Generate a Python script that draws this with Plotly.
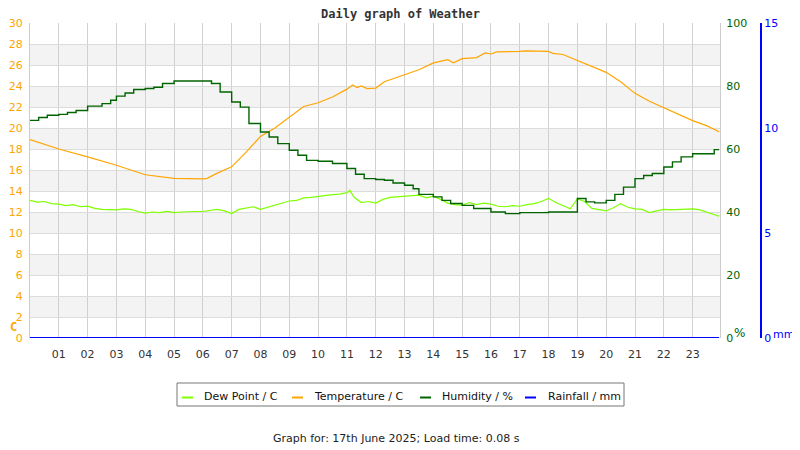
import plotly.graph_objects as go

# readings for 17th June 2025 (hours since midnight)
temp_hours = [0, 1, 2, 3, 4, 5, 6, 6.15, 6.5, 7, 7.5, 8, 8.5, 9, 9.5, 10, 10.5, 11, 11.2, 11.35,
              11.5, 11.7, 12, 12.3, 12.6, 13, 13.5, 14, 14.5, 14.7, 15, 15.5, 15.8, 16, 16.2, 17,
              17.2, 18, 18.15, 18.5, 19, 19.5, 20, 20.5, 21, 21.5, 22, 22.5, 23, 23.5, 23.92]
temp_c = [18.9, 18.0, 17.25, 16.45, 15.55, 15.2, 15.15, 15.2, 15.7, 16.3, 17.7, 19.2, 20.0, 21.05,
          22.05, 22.4, 22.95, 23.7, 24.1, 23.85, 24.0, 23.75, 23.8, 24.4, 24.7, 25.1, 25.55, 26.2,
          26.5, 26.2, 26.6, 26.7, 27.15, 27.05, 27.25, 27.3, 27.35, 27.3, 27.1, 27.0, 26.45, 25.9,
          25.3, 24.4, 23.3, 22.55, 21.95, 21.3, 20.7, 20.2, 19.65]

hum_hours = [0, 0.3, 0.6, 1, 1.3, 1.6, 2, 2.5, 2.8, 3, 3.3, 3.6, 4, 4.3, 4.6, 5, 5.5, 6, 6.3, 6.6,
             7, 7.3, 7.6, 8, 8.3, 8.6, 9, 9.3, 9.6, 10, 10.5, 11, 11.3, 11.6, 12, 12.3, 12.6, 13,
             13.3, 13.5, 14, 14.3, 14.6, 15, 15.4, 16, 16.5, 17, 18, 18.8, 19.0, 19.3, 19.6, 20,
             20.3, 20.6, 21, 21.3, 21.6, 22, 22.3, 22.6, 23, 23.75, 23.92]
hum_pct = [69.1, 70.0, 70.7, 71.0, 71.6, 72.2, 73.6, 74.4, 75.5, 76.8, 77.8, 78.9, 79.2, 79.6,
           80.8, 81.6, 81.6, 81.6, 80.8, 78.1, 74.9, 73.3, 68.1, 65.4, 63.8, 61.7, 59.6, 58.0,
           56.4, 56.1, 55.4, 53.8, 52.0, 50.6, 50.3, 50.1, 49.2, 48.5, 47.4, 45.6, 44.8, 43.7,
           42.7, 42.1, 41.1, 40.0, 39.5, 39.8, 40.0, 40.0, 44.3, 43.2, 42.9, 43.7, 45.6, 47.9,
           50.6, 51.6, 52.2, 54.3, 55.9, 57.5, 58.5, 59.8, 59.8]

dew_hours = [0, 0.25, 0.5, 0.75, 1, 1.25, 1.5, 1.75, 2, 2.25, 2.5, 2.75, 3, 3.25, 3.5, 3.75, 4,
             4.25, 4.5, 4.75, 5, 5.25, 5.5, 5.75, 6, 6.25, 6.5, 6.75, 7, 7.25, 7.5, 7.75, 8, 8.25,
             8.5, 8.75, 9, 9.25, 9.5, 9.75, 10, 10.25, 10.5, 10.75, 11, 11.1, 11.25, 11.5, 11.75,
             12, 12.25, 12.5, 12.75, 13, 13.25, 13.5, 13.75, 14, 14.25, 14.5, 14.75, 15, 15.25,
             15.5, 15.75, 16, 16.25, 16.5, 16.75, 17, 17.25, 17.5, 17.75, 18, 18.25, 18.5, 18.75,
             19, 19.25, 19.5, 19.75, 20, 20.25, 20.5, 20.75, 21, 21.25, 21.5, 21.75, 22, 22.25,
             22.5, 22.75, 23, 23.25, 23.5, 23.75, 23.92]
dew_c = [13.1, 12.95, 13.0, 12.8, 12.75, 12.6, 12.7, 12.5, 12.55, 12.35, 12.25, 12.2, 12.2, 12.3,
         12.25, 12.05, 11.9, 12.0, 11.95, 12.05, 11.95, 12.0, 12.05, 12.05, 12.05, 12.15, 12.25,
         12.1, 11.85, 12.25, 12.35, 12.5, 12.25, 12.45, 12.65, 12.9, 13.05, 13.1, 13.35, 13.4,
         13.5, 13.55, 13.65, 13.7, 13.85, 14.05, 13.4, 12.9, 13.0, 12.85, 13.2, 13.4, 13.45, 13.5,
         13.55, 13.6, 13.35, 13.5, 13.2, 12.85, 12.7, 12.65, 12.9, 12.7, 12.85, 12.75, 12.55,
         12.5, 12.6, 12.55, 12.7, 12.8, 13.0, 13.3, 12.9, 12.6, 12.3, 13.25, 13.0, 12.35, 12.25,
         12.1, 12.4, 12.8, 12.45, 12.3, 12.25, 11.95, 12.1, 12.25, 12.2, 12.25, 12.3, 12.3, 12.2,
         11.95, 11.75, 11.6]

rain_hours = [0, 23.92]
rain_mm = [0, 0]

hour_ticks = list(range(1, 24))
hour_labels = [f"{h:02d}" for h in hour_ticks]

legend_names = ["Dew Point / C", "Temperature / C", "Humidity / %", "Rainfall / mm"]

ORANGE = "#FFA500"
GREEN = "#006400"
LIME = "#7FFF00"
BLUE = "#0000FF"
FONT = "DejaVu Sans"
legend_colors = [LIME, ORANGE, GREEN, BLUE]


def px(xp, yp):
    # screen pixel (as in the target picture) -> paper coordinates
    return (xp - 30) / 760, (338 - yp) / 315


def label(text, xp, yp, size, color, family=FONT, xanchor="center"):
    ax, ay = px(xp, yp)
    return dict(text=text, x=ax, y=ay, xref="paper", yref="paper", showarrow=False,
                xanchor=xanchor, yanchor="middle",
                font=dict(family=family, size=size, color=color))


x_end = px(720, 0)[0]

fig = go.Figure()
fig.add_trace(go.Scatter(x=dew_hours, y=dew_c, name=legend_names[0], mode="lines",
                         line=dict(color=LIME, width=1.2)))
fig.add_trace(go.Scatter(x=temp_hours, y=temp_c, name=legend_names[1], mode="lines",
                         line=dict(color=ORANGE, width=1.2)))
fig.add_trace(go.Scatter(x=hum_hours, y=hum_pct, name=legend_names[2], mode="lines", yaxis="y2",
                         line=dict(color=GREEN, width=1.4, shape="hv")))
fig.add_trace(go.Scatter(x=rain_hours, y=rain_mm, name=legend_names[3], mode="lines", yaxis="y3",
                         line=dict(color=BLUE, width=2)))

shapes = []
# alternating grey bands on the temperature axis
for lo in range(2, 30, 4):
    shapes.append(dict(type="rect", xref="x", yref="y", x0=0, x1=23.95, y0=lo, y1=lo + 2,
                       fillcolor="#f3f3f3", line=dict(width=0), layer="below"))

# hand-built legend box below the chart
bx0, by0 = px(177, 406)
bx1, by1 = px(624, 383)
shapes.append(dict(type="rect", xref="paper", yref="paper", x0=bx0, x1=bx1, y0=by0, y1=by1,
                   line=dict(color="#777", width=1), fillcolor="white"))
annotations = []
swatch_x = [182, 292, 420, 525]
text_x = [202, 312, 440, 546]
for sx, tx, name, col in zip(swatch_x, text_x, legend_names, legend_colors):
    x0, ly = px(sx, 397.5)
    x1, _ = px(sx + 11, 397.5)
    shapes.append(dict(type="line", xref="paper", yref="paper", x0=x0, x1=x1, y0=ly, y1=ly,
                       line=dict(color=col, width=2)))
    annotations.append(label(name, tx, 396, 11, "#111", xanchor="left"))

annotations.append(label("<b>Daily graph of Weather</b>", 400, 14, 12, "#333",
                         family="DejaVu Sans Mono"))
annotations.append(label("<b>C</b>", 13, 327, 12, ORANGE, family="DejaVu Sans Mono"))
annotations.append(label("%", 739, 333, 12, GREEN))
annotations.append(label("mm", 771, 334, 11, BLUE, xanchor="left"))
annotations.append(label("Graph for: 17th June 2025; Load time: 0.08 s", 396, 438, 11, "#222"))

fig.update_layout(
    width=800, height=450,
    paper_bgcolor="white", plot_bgcolor="white",
    margin=dict(l=22, r=18, t=15, b=120, autoexpand=False),
    font=dict(family=FONT, size=11, color="#333"),
    shapes=shapes,
    annotations=annotations,
    showlegend=False,
    xaxis=dict(domain=[0, x_end], range=[0, 23.95], tickvals=hour_ticks, ticktext=hour_labels,
               showgrid=True, gridcolor="#d0d0d0", gridwidth=1, zeroline=False,
               ticks="outside", ticklen=6, tickcolor="rgba(0,0,0,0)", automargin=False,
               tickfont=dict(color="#333", size=11), showline=False),
    yaxis=dict(range=[0, 30], dtick=2, showgrid=True, gridcolor="#dcdcdc", zeroline=False,
               tickfont=dict(color=ORANGE, size=11), showline=True, linecolor="#cccccc",
               mirror=True, ticks="outside", ticklen=4, tickcolor="rgba(0,0,0,0)",
               automargin=False),
    yaxis2=dict(range=[0, 100], dtick=20, overlaying="y", side="right", anchor="x",
                showgrid=False, zeroline=False, tickfont=dict(color=GREEN, size=11),
                ticks="outside", ticklen=3, tickcolor="rgba(0,0,0,0)", showline=False,
                automargin=False),
    yaxis3=dict(range=[0, 15], dtick=5, overlaying="y", side="right", anchor="free",
                position=px(761, 0)[0], showgrid=False, zeroline=False,
                tickfont=dict(color=BLUE, size=11), showline=True, linecolor=BLUE, linewidth=2,
                ticks="", automargin=False),
)

fig.write_html("out.html")
